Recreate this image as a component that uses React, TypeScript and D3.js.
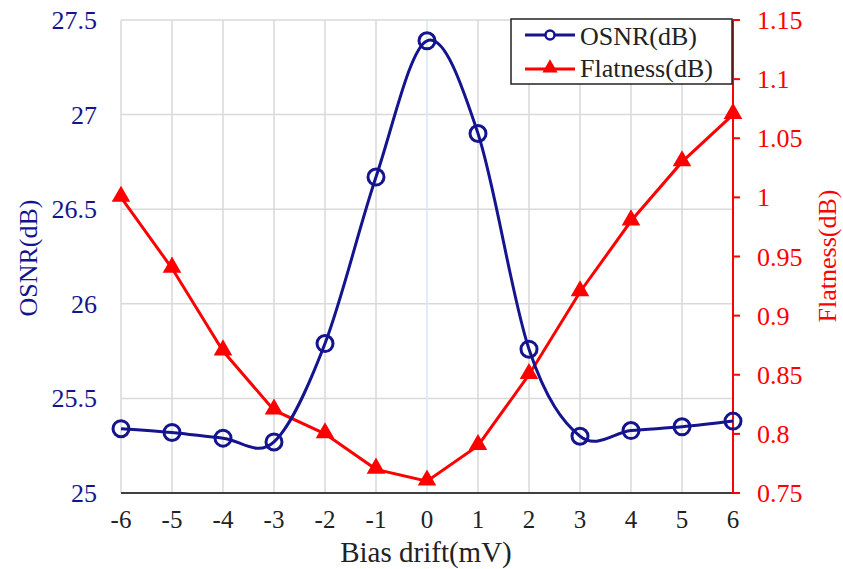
import React, { useEffect, useRef } from 'react';
import * as d3 from 'd3';

// bias drift (mV) values on the x axis
const biasDrift = [-6, -5, -4, -3, -2, -1, 0, 1, 2, 3, 4, 5, 6];
// OSNR in dB (left axis)
const osnr = [25.34, 25.32, 25.29, 25.27, 25.79, 26.67, 27.39, 26.9, 25.76, 25.3, 25.33, 25.35, 25.38];
// flatness in dB (right axis)
const flatness = [1.0, 0.94, 0.87, 0.82, 0.8, 0.77, 0.76, 0.79, 0.85, 0.92, 0.98, 1.03, 1.07];

const leftTicks = [25, 25.5, 26, 26.5, 27, 27.5];
const rightTicks = [0.75, 0.8, 0.85, 0.9, 0.95, 1, 1.05, 1.1, 1.15];

const W = 843;
const H = 569;
const BLUE = '#14148f';
const RED = '#ff0000';
const FONT = 'Liberation Serif, DejaVu Serif, serif';

const App = () => {
  const svgRef = useRef<SVGSVGElement>(null);

  useEffect(() => {
    const svg = d3.select(svgRef.current);
    svg.selectAll('*').remove();

    const left = 121, right = 733, top = 20, bottom = 493;

    const x = d3.scaleLinear().domain([-6, 6]).range([left, right]);
    const yL = d3.scaleLinear().domain([25, 27.5]).range([bottom, top]);
    const yR = d3.scaleLinear().domain([0.75, 1.15]).range([bottom, top]);

    svg.append('rect').attr('width', W).attr('height', H).attr('fill', '#fff');

    // grid
    const grid = svg.append('g');
    leftTicks.forEach(t => {
      grid.append('line')
        .attr('x1', left).attr('x2', right)
        .attr('y1', yL(t)).attr('y2', yL(t))
        .attr('stroke', '#d9d9d9').attr('stroke-width', 1.5);
    });
    biasDrift.forEach(t => {
      grid.append('line')
        .attr('x1', x(t)).attr('x2', x(t))
        .attr('y1', top).attr('y2', bottom)
        .attr('stroke', t === 0 ? '#d6e6f5' : '#d9d9d9').attr('stroke-width', 1.5);
    });

    // bottom axis line
    svg.append('line')
      .attr('x1', left).attr('x2', right)
      .attr('y1', bottom).attr('y2', bottom)
      .attr('stroke', '#404040').attr('stroke-width', 2);

    // left tick labels
    svg.append('g').selectAll('text').data(leftTicks).join('text')
      .attr('x', 97).attr('y', d => yL(d) + 9)
      .attr('text-anchor', 'end')
      .attr('font-family', FONT).attr('font-size', 26)
      .attr('fill', BLUE)
      .text(d => d3.format('')(d));

    // right axis
    const rAxis = svg.append('g');
    rAxis.append('line')
      .attr('x1', right).attr('x2', right)
      .attr('y1', top).attr('y2', bottom)
      .attr('stroke', RED).attr('stroke-width', 2);
    rightTicks.forEach(t => {
      rAxis.append('line')
        .attr('x1', right).attr('x2', right + 7)
        .attr('y1', yR(t)).attr('y2', yR(t))
        .attr('stroke', RED).attr('stroke-width', 2);
      rAxis.append('text')
        .attr('x', 757).attr('y', yR(t) + 9)
        .attr('font-family', FONT).attr('font-size', 26)
        .attr('fill', RED)
        .text(d3.format('')(t));
    });

    // x tick labels
    svg.append('g').selectAll('text').data(biasDrift).join('text')
      .attr('x', d => x(d)).attr('y', 528)
      .attr('text-anchor', 'middle')
      .attr('font-family', FONT).attr('font-size', 25)
      .attr('fill', '#222')
      .text(d => String(d));

    // axis titles
    svg.append('text')
      .attr('x', 426).attr('y', 562)
      .attr('text-anchor', 'middle')
      .attr('font-family', FONT).attr('font-size', 29)
      .attr('fill', '#222')
      .text('Bias drift(mV)');
    svg.append('text')
      .attr('transform', 'translate(37,258) rotate(-90)')
      .attr('text-anchor', 'middle')
      .attr('font-family', FONT).attr('font-size', 26)
      .attr('fill', BLUE)
      .text('OSNR(dB)');
    svg.append('text')
      .attr('transform', 'translate(836,256) rotate(-90)')
      .attr('text-anchor', 'middle')
      .attr('font-family', FONT).attr('font-size', 26)
      .attr('fill', RED)
      .text('Flatness(dB)');

    // flatness series
    const tri = d3.symbol().type(d3.symbolTriangle).size(150);
    const flatLine = d3.line<number>()
      .x((_, i) => x(biasDrift[i]))
      .y(d => yR(d));
    svg.append('path')
      .attr('d', flatLine(flatness))
      .attr('fill', 'none').attr('stroke', RED).attr('stroke-width', 3);
    svg.append('g').selectAll('path').data(flatness).join('path')
      .attr('d', tri)
      .attr('transform', (d, i) => `translate(${x(biasDrift[i])},${yR(d) - 1})`)
      .attr('fill', RED);

    // OSNR series (smoothed)
    const osnrLine = d3.line<number>()
      .x((_, i) => x(biasDrift[i]))
      .y(d => yL(d))
      .curve(d3.curveCardinal.tension(0));
    svg.append('path')
      .attr('d', osnrLine(osnr))
      .attr('fill', 'none').attr('stroke', BLUE).attr('stroke-width', 3);
    svg.append('g').selectAll('circle').data(osnr).join('circle')
      .attr('cx', (_, i) => x(biasDrift[i]))
      .attr('cy', d => yL(d))
      .attr('r', 8)
      .attr('fill', 'none').attr('stroke', BLUE).attr('stroke-width', 3);

    // legend
    const lg = svg.append('g');
    lg.append('rect')
      .attr('x', 511).attr('y', 19).attr('width', 221).attr('height', 65)
      .attr('fill', '#fff').attr('stroke', '#222').attr('stroke-width', 1.5);
    lg.append('line')
      .attr('x1', 525).attr('x2', 575).attr('y1', 35).attr('y2', 35)
      .attr('stroke', BLUE).attr('stroke-width', 3);
    lg.append('circle')
      .attr('cx', 550).attr('cy', 35).attr('r', 4.5)
      .attr('fill', '#fff').attr('stroke', BLUE).attr('stroke-width', 2.5);
    lg.append('text')
      .attr('x', 580).attr('y', 45)
      .attr('font-family', FONT).attr('font-size', 26).attr('fill', '#222')
      .text('OSNR(dB)');
    lg.append('line')
      .attr('x1', 525).attr('x2', 575).attr('y1', 69).attr('y2', 69)
      .attr('stroke', RED).attr('stroke-width', 3);
    lg.append('path')
      .attr('d', d3.symbol().type(d3.symbolTriangle).size(100)())
      .attr('transform', 'translate(550,68)')
      .attr('fill', RED);
    lg.append('text')
      .attr('x', 580).attr('y', 77)
      .attr('font-family', FONT).attr('font-size', 26).attr('fill', '#222')
      .text('Flatness(dB)');
  }, []);

  return (
    <svg
      ref={svgRef}
      width={W}
      height={H}
      style={{ position: 'absolute', left: 0, top: 0, display: 'block' }}
    />
  );
};

export default App;
